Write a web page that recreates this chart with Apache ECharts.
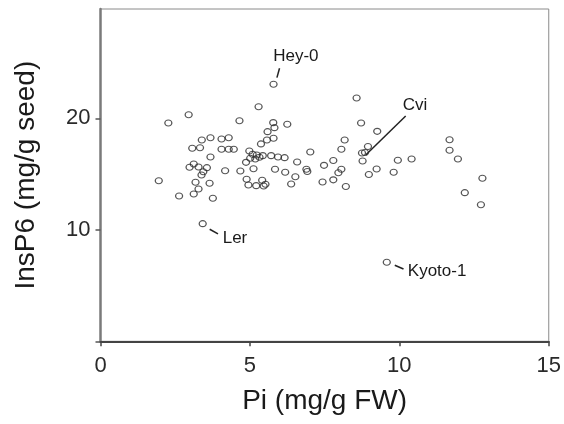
<!DOCTYPE html>
<html>
<head>
<meta charset="utf-8">
<script src="https://cdn.jsdelivr.net/npm/echarts@6/dist/echarts.min.js"></script>
<style>
  html, body { margin: 0; padding: 0; background: #fff; }
  #chart { width: 564px; height: 424px; }
</style>
</head>
<body>
<div id="chart"></div>
<script>
// ---- Data ----
const piValues = [
  1.95, 2.27, 2.63, 2.95, 2.98, 3.07, 3.12, 3.12, 3.18, 3.28,
  3.28, 3.33, 3.38, 3.39, 3.42, 3.44, 3.56, 3.65, 3.68, 3.68,
  3.76, 4.05, 4.05, 4.17, 4.29, 4.29, 4.46, 4.65, 4.68, 4.87,
  4.89, 4.95, 4.98, 5.01, 5.09, 5.12, 5.18, 5.21, 5.23, 5.29,
  5.32, 5.37, 5.41, 5.43, 5.46, 5.52, 5.57, 5.59, 5.71, 5.78,
  5.79, 5.79, 5.82, 5.84, 5.94, 6.16, 6.18, 6.25, 6.38, 6.52,
  6.58, 6.89, 6.92, 7.02, 7.43, 7.48, 7.79, 7.79, 7.96, 8.06,
  8.06, 8.17, 8.21, 8.57, 8.72, 8.75, 8.85, 8.95, 8.77, 8.98,
  9.24, 9.26, 9.58, 9.81, 9.95, 10.41, 11.68, 11.68, 11.96, 12.19,
  12.78, 12.73
];
const insp6Values = [
  14.40, 19.58, 13.03, 20.32, 15.61, 17.31, 15.90, 13.21, 14.26, 15.63,
  13.66, 17.36, 14.91, 18.05, 10.55, 15.21, 15.57, 14.17, 18.26, 16.53,
  12.83, 18.14, 17.22, 15.30, 18.26, 17.22, 17.22, 19.78, 15.27, 16.05,
  14.53, 14.02, 17.07, 16.41, 16.77, 15.48, 16.35, 13.96, 16.71, 21.04,
  16.50, 17.70, 14.44, 16.65, 13.93, 14.08, 18.05, 18.80, 16.65, 19.61,
  23.05, 18.21, 19.16, 15.43, 16.53, 16.47, 15.16, 19.46, 14.11, 14.76,
  16.08, 15.43, 15.23, 16.98, 14.29, 15.78, 16.22, 14.48, 15.12, 15.43,
  17.22, 18.05, 13.88, 21.82, 19.58, 16.89, 16.93, 17.47, 16.17, 14.96,
  15.45, 18.83, 7.09, 15.16, 16.23, 16.35, 18.08, 17.13, 16.35, 13.33,
  14.62, 12.25
];
const xTicks = [0, 5, 10, 15];
const yTickLabels = [10, 20];
const yTicks = [0, 10, 20];
const annotationNames = ['Hey-0', 'Cvi', 'Ler', 'Kyoto-1'];
const annotationPi =    [5.79, 8.75, 3.42, 9.58];
const annotationInsP6 = [23.05, 16.89, 10.55, 7.09];

// ---- Layout for annotations (pixel offsets from the point) ----
const annotationLayout = [
  { line: [3.4, -6.6, 6, -16],  text: [-0.3, -28.3], align: 'left' },
  { line: [3.7, 2, 43.7, -37],  text: [53, -47.5],   align: 'center' },
  { line: [7, 5.6, 15.3, 10.3], text: [20, 14.3],    align: 'left' },
  { line: [8, 3, 16.7, 6.7],    text: [21, 8.7],     align: 'left' }
];

const FONT = 'Liberation Sans, Arial, Helvetica, sans-serif';
const chart = echarts.init(document.getElementById('chart'), null, { renderer: 'canvas' });

const points = piValues.map((x, i) => [x, insp6Values[i]]);

chart.setOption({
  backgroundColor: '#ffffff',
  animation: false,
  grid: {
    left: 100.5, right: 13.5, top: 9, bottom: 82.7,
    show: true, borderColor: '#8a8a8a', borderWidth: 1, backgroundColor: 'transparent'
  },
  xAxis: {
    type: 'value', min: 0, max: 15, interval: 5,
    name: 'Pi (mg/g FW)', nameLocation: 'middle', nameGap: 46,
    nameTextStyle: { fontFamily: FONT, fontSize: 28, color: '#1a1a1a' },
    axisLine: { show: true, onZero: false, lineStyle: { color: '#444', width: 2 } },
    axisTick: { show: true, inside: false, length: 5, lineStyle: { color: '#444', width: 1.5 },
      customValues: xTicks },
    axisLabel: { fontFamily: FONT, fontSize: 22, color: '#2a2a2a', margin: 14, customValues: xTicks },
    splitLine: { show: false }
  },
  yAxis: {
    type: 'value', min: 0, max: 29.8,
    name: 'InsP6 (mg/g seed)', nameLocation: 'middle', nameGap: 60,
    nameTextStyle: { fontFamily: FONT, fontSize: 28, color: '#1a1a1a' },
    axisLine: { show: true, onZero: false, lineStyle: { color: '#7a7a7a', width: 2.5 } },
    axisTick: { show: true, inside: false, length: 5, lineStyle: { color: '#555', width: 1.5 },
      customValues: yTicks },
    axisLabel: { fontFamily: FONT, fontSize: 22, color: '#2a2a2a', margin: 10, customValues: yTickLabels },
    splitLine: { show: false }
  },
  series: [{
    type: 'scatter',
    data: points,
    symbol: 'circle',
    symbolSize: [7, 6],
    itemStyle: { color: 'rgba(255,255,255,0)', borderColor: '#2a2a2a', borderWidth: 1.2 },
    emphasis: { disabled: true },
    silent: true
  }]
});

// Annotations positioned through the chart's own scales
const graphics = [];
annotationNames.forEach((name, i) => {
  const p = chart.convertToPixel({ gridIndex: 0 }, [annotationPi[i], annotationInsP6[i]]);
  const L = annotationLayout[i];
  graphics.push({
    type: 'line', silent: true,
    shape: { x1: p[0] + L.line[0], y1: p[1] + L.line[1], x2: p[0] + L.line[2], y2: p[1] + L.line[3] },
    style: { stroke: '#222', lineWidth: 1.5 }
  });
  graphics.push({
    type: 'text', silent: true,
    x: p[0] + L.text[0], y: p[1] + L.text[1],
    style: { text: name, fontFamily: FONT, fontSize: 17, fill: '#1a1a1a',
      textAlign: L.align, textVerticalAlign: 'middle', verticalAlign: 'middle', align: L.align }
  });
});
chart.setOption({ graphic: graphics });
</script>
</body>
</html>
